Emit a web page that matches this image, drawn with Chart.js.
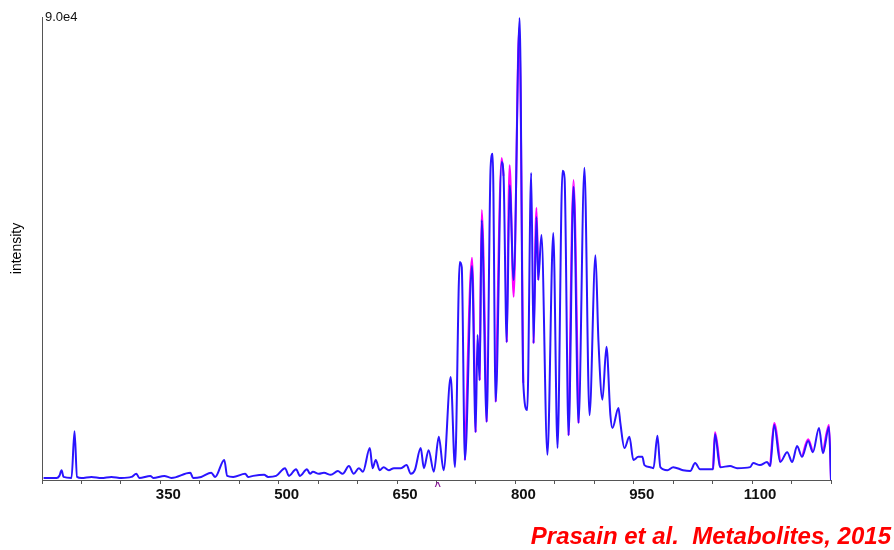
<!DOCTYPE html>
<html>
<head>
<meta charset="utf-8">
<script src="https://cdn.jsdelivr.net/npm/chart.js@4"></script>
<style>
  body { margin: 0; background: #fff; }
  #wrap { position: relative; width: 894px; height: 550px; }
  #cite {
    position: absolute; right: 3px; top: 522px;
    font: italic bold 24px 'Liberation Sans', Arial, sans-serif;
    color: #ff0000; white-space: pre;
  }
</style>
</head>
<body>
<div id="wrap">
  <canvas id="spectrum" width="894" height="550"></canvas>
  <div id="cite">Prasain et al.  Metabolites, 2015</div>
</div>
<script>
// m/z positions and intensities (blue trace)
const mz = [202, 218.5, 222, 224.8, 227.3, 237.4, 241.2, 244.4, 250, 262.7, 275.4, 288, 300.7, 313.3, 319.6, 323.4,
  337.3, 341, 355, 364, 388, 391.5, 401.8, 414.5, 419.5, 431, 434.7, 442.3, 457.5, 461.3, 467.6, 481.5, 486.6, 496.7,
  508, 513, 522, 527, 535.8, 539.7, 543.4, 551, 557.4, 566, 575, 581, 589, 595, 601.6, 606.7, 615.5, 619, 623, 628,
  633, 639.6, 646, 655, 662, 667.5, 672.5, 680, 684, 690, 696.6, 702.9, 709, 718, 723.4, 729.5, 732, 736, 745, 749.6,
  752, 754.7, 757.3, 763.6, 768.6, 771.2, 775, 782.6, 785, 789, 792.7, 797.8, 805.4, 810, 815, 820, 823, 826.7, 829,
  833, 840.6, 848, 853.4, 859.7, 862.3, 867.4, 873.7, 880, 887.5, 893.9, 901.5, 905.2, 910.3, 915.4, 920.4, 923,
  930.6, 933, 938.2, 944.5, 949.5, 955.8, 960.9, 963.5, 971, 975, 980, 983.7, 992.6, 1000, 1012.5, 1021.5, 1027.8,
  1034, 1050.5, 1053, 1059.4, 1072, 1081, 1097.5, 1101.3, 1110, 1119, 1122.9, 1128, 1135.6, 1144.5, 1150.8, 1157,
  1163.3, 1171, 1177, 1184.8, 1189.8, 1197.4, 1200];
const blueIntensity = [400, 400, 800, 1900, 600, 400, 9500, 600, 400, 600, 400, 600, 400, 600, 1200, 400,
  800, 400, 800, 400, 1400, 400, 600, 1400, 600, 3900, 800, 600, 1200, 600, 800, 1000, 600, 800,
  2300, 800, 2100, 800, 2100, 1200, 1600, 1200, 1400, 1000, 1750, 1200, 2700, 1200, 2300, 1600, 6200, 2300, 3900, 1900,
  2500, 1900, 2300, 2300, 2900, 1200, 1900, 6200, 2300, 5800, 1600, 8400, 1900, 20000, 2500, 42400, 41400, 3900, 41600, 9300,
  28200, 19400, 50500, 11300, 60800, 63400, 15200, 61800, 59100, 26800, 57300, 38900, 89800, 18900, 13600, 59700, 26600, 51100, 38900,
  47600, 4900, 48000, 6200, 60100, 58700, 8700, 57000, 11100, 60700, 12600, 43700, 27200, 15600, 25900, 12600, 10100,
  14000, 11100, 6200, 8400, 3900, 4500, 4500, 2900, 2500, 2300, 8600, 2500, 1900, 2500, 1900, 1750, 3300,
  2100, 2100, 8900, 2500, 2700, 2300, 2500, 3300, 2900, 3500, 2700, 10700, 3500, 5400, 3500, 6600,
  4500, 7600, 5400, 10100, 5200, 10300, 0];

// magenta trace only where it shows from behind the blue one (null = gap)
const magentaMz = [736, 745, 749.6, null, 754.7, 757.3, 763.6, null, 775, 782.6, 785, null,
  789, 792.7, 797.8, 804.8, 810, null, 823, 826.7, 829, null, 867.4, 873.7, 880, null,
  1050.5, 1053, 1059.4, null, 1122.9, 1128, 1135.6, null, 1163.3, 1171, 1177, null, 1189.8, 1197.4, 1200];
const magentaIntensity = [3900, 43200, 9300, null, 19400, 52500, 11300, null, 15200, 62600, 59100, null,
  26800, 61200, 35600, 87900, 18900, null, 26600, 52900, 38900, null, 8700, 58300, 11100, null,
  2100, 9300, 2500, null, 2700, 11100, 3500, null, 4500, 7900, 5400, null, 5200, 10700, 0];

const labelTicks = [350, 500, 650, 800, 950, 1100];
const xMin = 200, xMax = 1200, xStep = 50;
const yMax = 90000;
const yMaxLabel = '9.0e4';
const markMz = 701.6;   // small "^" marker under the axis

const toPoints = (xs, ys) => xs.map((x, i) => ({ x: x === null ? NaN : x, y: ys[i] }));

const markPlugin = {
  id: 'mark',
  afterDraw(chart) {
    const { ctx, chartArea, scales } = chart;
    ctx.save();
    ctx.fillStyle = '#8a1a9a';
    ctx.font = 'bold 11px Arial, sans-serif';
    ctx.textAlign = 'center';
    ctx.textBaseline = 'top';
    ctx.fillText('^', scales.x.getPixelForValue(markMz), chartArea.bottom + 1);
    ctx.restore();
  }
};

new Chart(document.getElementById('spectrum'), {
  type: 'line',
  data: {
    datasets: [
      {
        label: 'blue',
        data: toPoints(mz, blueIntensity),
        borderColor: '#2a14ff',
        borderWidth: 2,
        pointRadius: 0,
        cubicInterpolationMode: 'monotone',
        order: 0
      },
      {
        label: 'magenta',
        data: toPoints(magentaMz, magentaIntensity),
        borderColor: '#ff00ff',
        borderWidth: 2,
        pointRadius: 0,
        cubicInterpolationMode: 'monotone',
        spanGaps: false,
        order: 1
      }
    ]
  },
  options: {
    responsive: false,
    animation: false,
    layout: { padding: { top: 17, right: 63, left: 0, bottom: 0 } },
    plugins: { legend: { display: false }, tooltip: { enabled: false } },
    scales: {
      x: {
        type: 'linear',
        min: xMin,
        max: xMax,
        afterFit: s => { s.height = 70; },
        border: { color: '#555', width: 1 },
        grid: { drawOnChartArea: false, tickLength: 4, color: '#555' },
        ticks: {
          stepSize: xStep,
          autoSkip: false,
          maxRotation: 0,
          labelOffset: 8,
          padding: 2,
          color: '#111',
          font: { family: 'Liberation Sans, Arial, sans-serif', size: 15, weight: 'bold' },
          callback: v => labelTicks.includes(v) ? String(v) : ''
        }
      },
      y: {
        min: 0,
        max: yMax,
        afterFit: s => { s.width = 42; },
        border: { color: '#555', width: 1 },
        grid: { drawOnChartArea: false, drawTicks: false },
        title: {
          display: true,
          text: 'intensity',
          color: '#000',
          padding: { top: 9, bottom: 0 },
          font: { family: 'Liberation Sans, Arial, sans-serif', size: 14 }
        },
        ticks: {
          mirror: true,
          stepSize: yMax,
          padding: 3,
          color: '#111',
          font: { family: 'Liberation Sans, Arial, sans-serif', size: 13 },
          callback: v => v === yMax ? yMaxLabel : ''
        }
      }
    }
  },
  plugins: [markPlugin]
});
</script>
</body>
</html>
